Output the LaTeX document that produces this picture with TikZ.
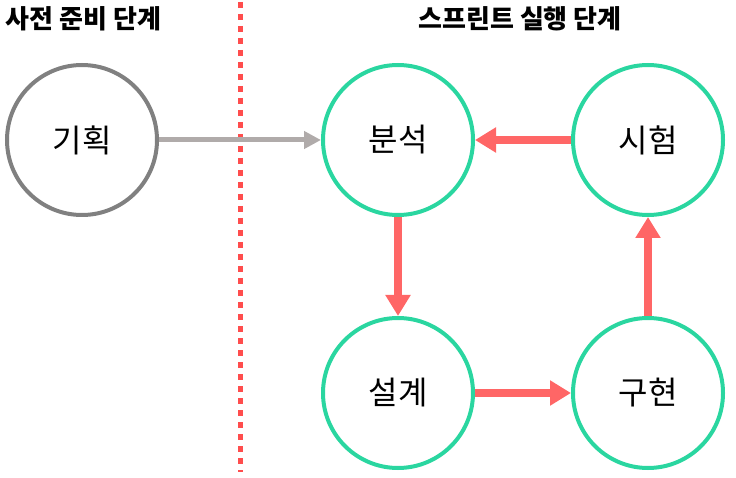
\documentclass[tikz,border=0pt]{standalone}
\usepackage{fontspec}
\setmainfont{Noto Sans CJK KR}
\usepackage{tikz}
\usetikzlibrary{positioning,arrows.meta}
\usepackage{xcolor}
\definecolor{mint}{HTML}{2AD6A0}
\definecolor{ashgray}{HTML}{808080}
\definecolor{linkgray}{HTML}{B0ABAA}
\definecolor{coral}{HTML}{FF6666}
\definecolor{divred}{HTML}{FF4D4D}

\begin{document}
\begin{tikzpicture}[x=1pt, y=-1pt,
    phase/.style={circle, minimum size=150pt, inner sep=0pt, line width=4pt, font=\fontsize{32}{36}\selectfont},
    sprint/.style={coral, line width=8pt, -{Triangle[length=21pt, width=24pt]}},
    title/.style={font=\bfseries\fontsize{26}{30}\selectfont}]
    \useasboundingbox (0, 0) rectangle (736, 478);

    % divider between the two stages
    \coordinate (divtop) at (240, 2);
    \coordinate (divbot) at (240, 472);
    \draw[divred, line width=5pt, dash pattern=on 6pt off 6pt] (divtop) -- (divbot);

    \node[title, anchor=west] (pretitle) at (2, 19) {사전 준비 단계};
    \node[title] (sprinttitle) at (520, 19) {스프린트 실행 단계};

    \node[phase, draw=ashgray] (plan) at (82, 140) {기획};
    \node[phase, draw=mint] (analysis) at (398, 140) {분석};
    \node[phase, draw=mint] (test) at (648, 140) {시험};
    \node[phase, draw=mint] (design) at (398, 393) {설계};
    \node[phase, draw=mint] (build) at (648, 393) {구현};

    \draw[linkgray, line width=5pt, -{Triangle[length=17pt, width=17pt]}] (plan) -- (analysis);
    \draw[sprint] (analysis) -- (design);
    \draw[sprint] (design) -- (build);
    \draw[sprint] (build) -- (test);
    \draw[sprint] (test) -- (analysis);
\end{tikzpicture}
\end{document}
